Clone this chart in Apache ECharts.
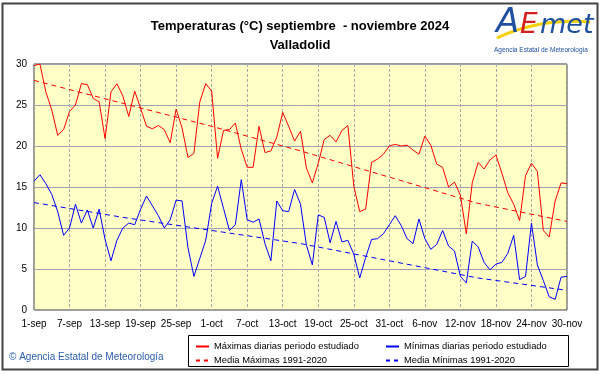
<!DOCTYPE html>
<html><head><meta charset="utf-8">
<script src="https://cdn.jsdelivr.net/npm/echarts@6/dist/echarts.min.js"></script>
<style>html,body{margin:0;padding:0;background:#fff}#c{width:601px;height:374px}</style>
</head><body><div id="c"></div><script>
// categories: every day from 1-sep to 30-nov 2024
const meses = [['sep', 30], ['oct', 31], ['nov', 30]];
const dias = [];
meses.forEach(function (m) { for (let d = 1; d <= m[1]; d++) dias.push(d + '-' + m[0]); });

const maximas = [29.8,30.0,26.6,24.4,21.3,22.0,24.2,25.0,27.6,27.5,25.8,25.4,20.9,26.6,27.6,26.1,23.6,26.7,24.6,22.4,
22.1,22.5,22.0,20.4,24.5,22.2,18.6,19.1,25.4,27.6,26.7,18.5,21.9,22.0,22.8,19.6,17.4,17.4,22.4,19.2,
19.4,21.1,24.1,22.4,20.6,21.8,17.3,15.5,17.9,20.8,21.3,20.5,21.9,22.5,15.1,12.0,12.3,18.0,18.4,19.0,
20.0,20.2,20.0,20.1,19.5,19.0,21.2,20.1,17.8,17.4,15.0,15.6,14.0,9.3,15.5,18.0,17.2,18.3,18.9,16.7,
14.3,12.9,10.9,16.4,17.9,16.9,9.7,8.9,13.3,15.5,15.4];

const minimas = [15.7,16.5,15.4,14.1,12.0,9.1,10.0,12.9,10.6,12.2,10.0,12.3,8.6,6.0,8.5,10.0,10.6,10.4,12.3,13.9,
12.7,11.5,10.0,11.0,13.4,13.3,7.6,4.1,6.3,8.5,13.0,15.1,12.4,9.7,10.4,15.9,11.0,10.7,11.1,8.1,
6.0,13.3,12.1,12.0,14.7,12.9,7.9,5.5,11.6,11.3,8.2,10.8,8.3,8.5,6.8,3.9,6.4,8.6,8.7,9.3,
10.4,11.5,10.3,8.7,8.1,11.1,8.7,7.4,8.0,9.7,7.8,7.2,4.1,3.3,8.4,7.7,5.8,4.9,5.6,5.8,
6.9,9.1,3.7,4.1,10.6,5.5,3.6,1.6,1.3,4.0,4.1];

// climatological means 1991-2020 read at anchor days
const mediaDias = [0, 15, 30, 45, 60, 75, 90];
const mediaMaximas = [28.0, 25.2, 22.4, 19.4, 16.2, 13.0, 10.8];
const mediaMinimas = [13.1, 11.3, 9.7, 8.1, 6.0, 3.9, 2.4];

const yTicks = [0, 5, 10, 15, 20, 25, 30];

const nMax = 'Máximas diarias periodo estudiado';
const nMin = 'Mínimas diarias periodo estudiado';
const nMMax = 'Media Máximas 1991-2020';
const nMMin = 'Media Mínimas 1991-2020';
const FONT = 'Liberation Sans, Arial, sans-serif';

const legendText = {fontFamily: FONT, fontSize: 9.4, color: '#000'};
const chart = echarts.init(document.getElementById('c'), null, {renderer: 'canvas'});
chart.setOption({
  animation: false,
  backgroundColor: '#fff',
  title: {
    text: 'Temperaturas (°C) septiembre  - noviembre 2024\nValladolid',
    left: 295, top: 12, textAlign: 'center',
    textStyle: {fontFamily: FONT, fontSize: 13, fontWeight: 'bold', color: '#000', lineHeight: 19}
  },
  grid: {left: 34, top: 64, width: 533, height: 246, show: true, backgroundColor: '#FFFFC6', borderColor: '#3a3a3a', borderWidth: 1},
  xAxis: {
    type: 'category', data: dias, boundaryGap: false,
    axisLine: {show: false}, axisTick: {show: false},
    axisLabel: {interval: 5, fontFamily: FONT, fontSize: 10, color: '#000', margin: 9},
    splitLine: {show: true, interval: 5, lineStyle: {color: '#a8a8a8', type: [3, 2], width: 1}}
  },
  yAxis: {
    type: 'value', min: yTicks[0], max: yTicks[yTicks.length - 1], interval: 5,
    axisLine: {show: false}, axisTick: {show: false},
    axisLabel: {fontFamily: FONT, fontSize: 10, color: '#000', margin: 7},
    splitLine: {lineStyle: {color: '#a0a0b4', width: 1}}
  },
  legend: [
    {left: 190, top: 337, orient: 'vertical', itemWidth: 13, itemHeight: 8, itemGap: 5,
     itemStyle: {opacity: 0},
     data: [{name: nMax}, {name: nMMax, lineStyle: {type: [4, 4]}}], textStyle: legendText},
    {left: 380, top: 337, orient: 'vertical', itemWidth: 13, itemHeight: 8, itemGap: 5,
     itemStyle: {opacity: 0},
     data: [{name: nMin}, {name: nMMin, lineStyle: {type: [4, 4]}}], textStyle: legendText}
  ],
  series: [
    {name: nMax, type: 'line', data: maximas, symbol: 'none', lineStyle: {color: '#ff0000', width: 1}, itemStyle: {color: '#ff0000'}, z: 3},
    {name: nMin, type: 'line', data: minimas, symbol: 'none', lineStyle: {color: '#0000ff', width: 1}, itemStyle: {color: '#0000ff'}, z: 3},
    {name: nMMax, type: 'line', data: mediaDias.map(function (d, i) { return [d, mediaMaximas[i]]; }), symbol: 'none',
     lineStyle: {color: '#ff0000', width: 1, type: [5, 4]}, itemStyle: {color: '#ff0000'}, z: 2},
    {name: nMMin, type: 'line', data: mediaDias.map(function (d, i) { return [d, mediaMinimas[i]]; }), symbol: 'none',
     lineStyle: {color: '#0000ff', width: 1, type: [5, 4]}, itemStyle: {color: '#0000ff'}, z: 2}
  ],
  graphic: [
    {type: 'rect', shape: {x: 2.5, y: 3.5, width: 595, height: 366}, style: {fill: 'none', stroke: '#444', lineWidth: 2}, silent: true, z: -1},
    {type: 'rect', shape: {x: 188.5, y: 335.5, width: 380, height: 31}, style: {fill: 'none', stroke: '#000', lineWidth: 1}, silent: true},
    {type: 'text', x: 9, y: 352, style: {text: '© Agencia Estatal de Meteorología', font: '10px Liberation Sans', fill: '#2a5caa'}},
    {type: 'bezierCurve', shape: {x1: 497, y1: 38, cpx1: 540, cpy1: 18, x2: 590, y2: 22}, style: {fill: 'none', stroke: '#f5d000', lineWidth: 3}},
    {type: 'text', x: 496, y: 6, style: {text: 'A', font: 'italic 34px DejaVu Sans', fill: '#1e4fa0'}},
    {type: 'text', x: 520, y: 12, style: {text: 'E', font: 'italic 28px DejaVu Sans', fill: '#d42020'}},
    {type: 'text', x: 540, y: 12, style: {text: 'met', font: 'italic 27px DejaVu Sans', fill: '#1e4fa0'}},
    {type: 'text', x: 494, y: 47, style: {text: 'Agencia Estatal de Meteorología', font: '6.5px Liberation Sans', fill: '#1e4fa0'}}
  ]
});
</script></body></html>
